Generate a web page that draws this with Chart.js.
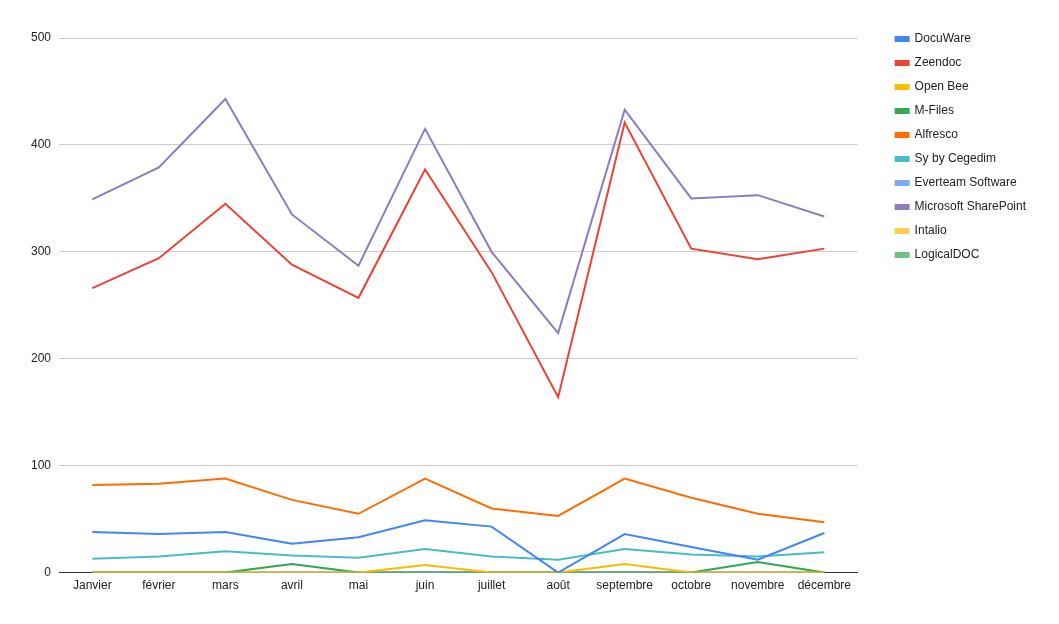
<!DOCTYPE html>
<html>
<head>
<meta charset="utf-8">
<script src="https://cdn.jsdelivr.net/npm/chart.js@4"></script>
<style>
    html, body { margin: 0; padding: 0; background: #fff; }
    #wrap { width: 1059px; height: 624px; position: relative; }
</style>
</head>
<body>
<div id="wrap"><canvas id="chart"></canvas></div>
<script>
// Mois (axe des x)
const mois = ["Janvier", "février", "mars", "avril", "mai", "juin", "juillet", "août", "septembre", "octobre", "novembre", "décembre"];

// Valeurs par éditeur
const docuware = [38, 36, 38, 27, 33, 49, 43, 0, 36, 24, 12, 37];
const zeendoc = [266, 294, 345, 288, 257, 377, 281, 164, 421, 303, 293, 303];
const openBee = [0, 0, 0, 0, 0, 7, 0, 0, 8, 0, 0, 0];
const mFiles = [0, 0, 0, 8, 0, 0, 0, 0, 0, 0, 10, 0];
const alfresco = [82, 83, 88, 68, 55, 88, 60, 53, 88, 70, 55, 47];
const syByCegedim = [13, 15, 20, 16, 14, 22, 15, 12, 22, 17, 15, 19];
const everteam = [0, 0, 0, 0, 0, 0, 0, 0, 0, 0, 0, 0];
const sharePoint = [349, 379, 443, 335, 287, 415, 300, 224, 433, 350, 353, 333];
const intalio = [0, 0, 0, 0, 0, 0, 0, 0, 0, 0, 0, 0];
const logicalDoc = [0, 0, 0, 0, 0, 0, 0, 0, 0, 0, 0, 0];

// Graduations de l'axe des y
const yTicks = [0, 100, 200, 300, 400, 500];

// Une série = un éditeur
const series = [
    { label: "DocuWare", data: docuware, color: "#4285f4" },
    { label: "Zeendoc", data: zeendoc, color: "#ea4335" },
    { label: "Open Bee", data: openBee, color: "#fbbc04" },
    { label: "M-Files", data: mFiles, color: "#34a853" },
    { label: "Alfresco", data: alfresco, color: "#ff6d01" },
    { label: "Sy by Cegedim", data: syByCegedim, color: "#46bdc6" },
    { label: "Everteam Software", data: everteam, color: "#7baaf7" },
    { label: "Microsoft SharePoint", data: sharePoint, color: "#8e7cc3" },
    { label: "Intalio", data: intalio, color: "#fcd04f" },
    { label: "LogicalDOC", data: logicalDoc, color: "#71c287" },
];

// Décale la légende (position fixe à droite, indépendante de la zone du graphique)
const legendShift = {
    id: 'legendShift',
    afterLayout(chart) {
        const lg = chart.legend;
        if (!lg) return;
        const dx = 26, dy = -17;
        lg.left += dx; lg.right += dx;
        lg.top += dy; lg.bottom += dy;
    },
};

Chart.defaults.font.family = "'Liberation Sans', Arial, sans-serif";
Chart.defaults.font.size = 12;
Chart.defaults.color = "#222";

new Chart(document.getElementById("chart"), {
    type: 'line',
    data: {
        labels: mois,
        datasets: series.map(s => ({
            label: s.label,
            data: s.data,
            borderColor: s.color,
            backgroundColor: s.color,
            borderWidth: 2,
            pointRadius: 0,
            tension: 0,
        })),
    },
    plugins: [legendShift],
    options: {
        responsive: true,
        maintainAspectRatio: false,
        animation: false,
        layout: {
            padding: { top: 38, right: 49, bottom: 25, left: 23 },
        },
        plugins: {
            tooltip: { enabled: false },
            legend: {
                position: 'right',
                align: 'start',
                labels: {
                    boxWidth: 13,
                    boxHeight: 4,
                    padding: 12,
                    color: "#222",
                },
            },
        },
        scales: {
            x: {
                offset: true,
                grid: { display: false, drawTicks: false },
                border: { display: true, color: "#333" },
                ticks: { maxRotation: 0, autoSkip: false, padding: 6 },
            },
            y: {
                min: 0,
                max: 500,
                afterBuildTicks: axis => { axis.ticks = yTicks.map(v => ({ value: v })); },
                border: { display: false },
                grid: {
                    color: ctx => ctx.tick && ctx.tick.value === 0 ? "#333" : "#ccc",
                    drawTicks: false,
                },
                ticks: { padding: 8 },
            },
        },
    },
});
</script>
</body>
</html>
